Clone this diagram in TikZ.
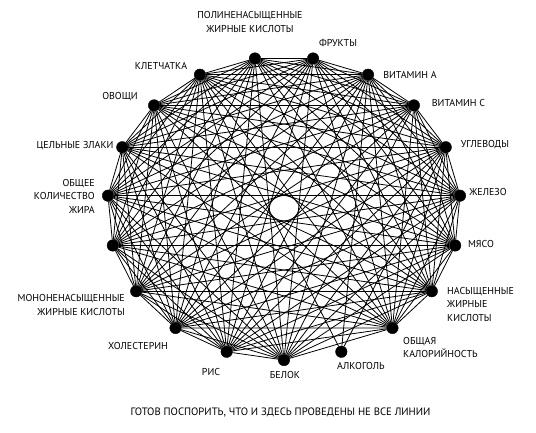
\documentclass[tikz,border=0pt]{standalone}
\usepackage{fontspec}
\setmainfont{PT Sans}
\begin{document}
\begin{tikzpicture}[x=1pt,y=1pt]
        \tikzstyle{food}=[draw,shape=circle,fill=black,inner sep=0pt,minimum size=11.5pt];
        \tikzstyle{tag}=[inner sep=0pt,font=\fontsize{10}{13.5}\selectfont];
        \useasboundingbox (-284,-223.8) rectangle (252,208.2);
        % 19 dots on an ellipse, v0 = bottom, counted anticlockwise
        \foreach \i in {0,...,18}
          \node[food] (v\i) at ({270+\i*360/19}:176.6pt and 151.8pt) {};
        % every pair, apart from v1 (alcohol)
        \foreach \i in {0,2,3,...,18}
          \foreach \j in {0,2,3,...,18}
            {\ifnum\i<\j \draw[line width=0.8pt] (v\i)--(v\j); \fi}
        \draw[line width=0.8pt] (v1)--(v11);
        \draw[line width=0.8pt] (v1)--(v8);
        \draw[line width=0.8pt] (v1)--(v6);
        % labels
        \node[tag] (l0) at (1,-166.8) {БЕЛОК};
        \node[tag] (l1) at (77,-157.8) {АЛКОГОЛЬ};
        \node[tag,anchor=west,align=left] (l2) at (119,-139.3) {ОБЩАЯ\\КАЛОРИЙНОСТЬ};
        \node[tag,anchor=west,align=left] (l3) at (163,-95.8) {НАСЫЩЕННЫЕ\\ЖИРНЫЕ\\КИСЛОТЫ};
        \node[tag] (l4) at (197,-35.8) {МЯСО};
        \node[tag] (l5) at (204,16.2) {ЖЕЛЕЗО};
        \node[tag] (l6) at (201,63.2) {УГЛЕВОДЫ};
        \node[tag] (l7) at (174.5,105.2) {ВИТАМИН С};
        \node[tag] (l8) at (126,133.2) {ВИТАМИН А};
        \node[tag] (l9) at (54,165.2) {ФРУКТЫ};
        \node[tag,align=center] (l10) at (-34,186.2) {ПОЛИНЕНАСЫЩЕННЫЕ\\ЖИРНЫЕ КИСЛОТЫ};
        \node[tag] (l11) at (-123,142.2) {КЛЕТЧАТКА};
        \node[tag] (l12) at (-164,111.2) {ОВОЩИ};
        \node[tag] (l13) at (-209,62.2) {ЦЕЛЬНЫЕ ЗЛАКИ};
        \node[tag,anchor=east,align=right] (l14) at (-189,12.2) {ОБЩЕЕ\\КОЛИЧЕСТВО\\ЖИРА};
        \node[tag,anchor=east,align=right] (l16) at (-159,-96.8) {МОНОНЕНАСЫЩЕННЫЕ\\ЖИРНЫЕ КИСЛОТЫ};
        \node[tag] (l17) at (-146,-137.8) {ХОЛЕСТЕРИН};
        \node[tag] (l18) at (-73,-163.8) {РИС};
        \node[tag,font=\fontsize{10.7}{13}\selectfont] (caption) at (-3.5,-203.8) {ГОТОВ ПОСПОРИТЬ, ЧТО И ЗДЕСЬ ПРОВЕДЕНЫ НЕ ВСЕ ЛИНИИ};
\end{tikzpicture}
\end{document}
